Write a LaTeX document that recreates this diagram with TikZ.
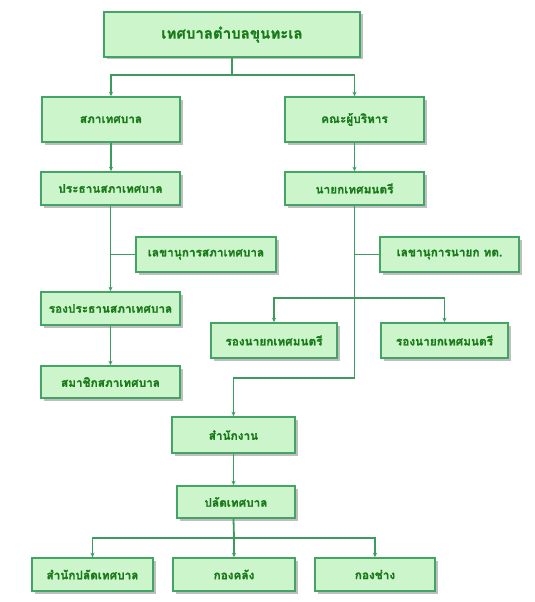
\documentclass[tikz,border=0pt]{standalone}
\usepackage{fontspec}
\newfontfamily\thaifont[Script=Thai, BoldFeatures={FakeBold=1.2}]{Loma}
\usetikzlibrary{arrows.meta,shadows}
\definecolor{boxfill}{HTML}{CCF5CC}
\definecolor{boxline}{HTML}{44A466}
\definecolor{connline}{HTML}{3C9C60}
\definecolor{boxtext}{HTML}{1A7A1A}
\begin{document}
\begin{tikzpicture}[x=1pt,y=-1pt,
  orgbox/.style={draw=boxline, line width=1.6pt, fill=boxfill, inner sep=0pt,
    text=boxtext, font=\thaifont\bfseries\fontsize{11.8}{13}\selectfont,
    drop shadow={shadow xshift=2.5pt, shadow yshift=-2.5pt, fill=black, opacity=0.25}},
  conn/.style={draw=connline, line width=1.8pt},
  arr/.style={conn, -{Stealth[length=4.5pt,width=4pt]}}]
\useasboundingbox (0,0) rectangle (535,602);
\node[orgbox, minimum width=256pt, minimum height=45pt, font=\thaifont\bfseries\fontsize{15}{17}\selectfont] (top) at (232,34.5) {เทศบาลตำบลขุนทะเล};
\node[orgbox, minimum width=138pt, minimum height=45pt] (sapha) at (111,119.5) {สภาเทศบาล};
\node[orgbox, minimum width=139pt, minimum height=45pt] (khana) at (354.5,119.5) {คณะผู้บริหาร};
\node[orgbox, minimum width=139pt, minimum height=33pt] (prathan) at (110.5,188.5) {ประธานสภาเทศบาล};
\node[orgbox, minimum width=139pt, minimum height=33pt] (nayok) at (354.5,188.5) {นายกเทศมนตรี};
\node[orgbox, minimum width=140pt, minimum height=35pt] (lekha1) at (206,254.5) {เลขานุการสภาเทศบาล};
\node[orgbox, minimum width=139pt, minimum height=35pt] (lekha2) at (449.5,254.5) {เลขานุการนายก ทต.};
\node[orgbox, minimum width=139pt, minimum height=33pt] (rong) at (110.5,308.5) {รองประธานสภาเทศบาล};
\node[orgbox, minimum width=126pt, minimum height=35pt] (rongnayok1) at (274,340.5) {รองนายกเทศมนตรี};
\node[orgbox, minimum width=127pt, minimum height=35pt] (rongnayok2) at (444.5,340.5) {รองนายกเทศมนตรี};
\node[orgbox, minimum width=139pt, minimum height=32pt] (samachik) at (110.5,382) {สมาชิกสภาเทศบาล};
\node[orgbox, minimum width=123pt, minimum height=36pt] (office) at (233.5,435) {สำนักงาน};
\node[orgbox, minimum width=118pt, minimum height=32pt] (palad) at (236,502) {ปลัดเทศบาล};
\node[orgbox, minimum width=121pt, minimum height=33pt] (b1) at (92.5,574.5) {สำนักปลัดเทศบาล};
\node[orgbox, minimum width=122pt, minimum height=33pt] (b2) at (234,574.5) {กองคลัง};
\node[orgbox, minimum width=120pt, minimum height=33pt] (b3) at (375,574.5) {กองช่าง};
% connectors
\coordinate (j1) at (232,75);
\draw[conn] (top.south) -- (j1);
\draw[arr] (j1) -| (sapha.north);
\draw[arr] (j1) -| (khana.north);
\draw[arr] (sapha.south) -- (sapha.south |- prathan.north);
\draw[arr] (prathan.south) -- (prathan.south |- rong.north);
\draw[conn] (lekha1.west) -- (prathan.south |- lekha1.west);
\draw[arr] (rong.south) -- (rong.south |- samachik.north);
\draw[arr] (khana.south) -- (nayok.north);
\coordinate (j2) at (354.5,378);
\draw[arr] (nayok.south) -- (j2) -| (office.north);
\coordinate (j3) at (354.5,298);
\draw[arr] (j3) -| (rongnayok1.north);
\draw[arr] (j3) -| (rongnayok2.north);
\draw[conn] (lekha2.west) -- (nayok.south |- lekha2.west);
\draw[arr] (office.south) -- (office.south |- palad.north);
\coordinate (j4) at (234,538);
\draw[conn] (office.south |- palad.south) -- (j4);
\draw[arr] (j4) -| (b1.north);
\draw[arr] (j4) -- (b2.north);
\draw[arr] (j4) -| (b3.north);
\end{tikzpicture}
\end{document}
